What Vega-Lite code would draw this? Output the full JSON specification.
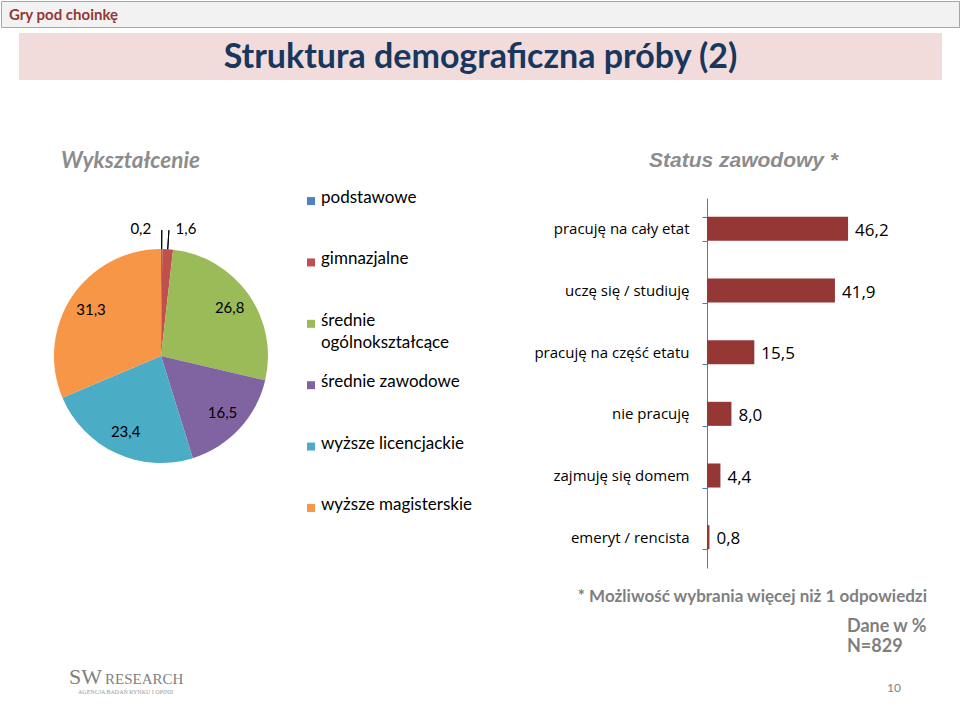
{
  "$schema": "https://vega.github.io/schema/vega-lite/v6.json",
  "padding": 0,
  "background": "#ffffff",
  "bounds": "flush",
  "spacing": 0,
  "config": {
    "view": {"stroke": null},
    "font": "Lato",
    "locale": {"number": {"decimal": ",", "thousands": " ", "grouping": [3], "currency": ["", " zł"]}}
  },
  "datasets": {
    "edu": [
      {"kat": "podstawowe", "lab": "podstawowe", "v": 0.2, "o": 1},
      {"kat": "gimnazjalne", "lab": "gimnazjalne", "v": 1.6, "o": 2},
      {"kat": "średnie ogólnokształcące", "lab": "średnie\nogólnokształcące", "v": 26.8, "o": 3},
      {"kat": "średnie zawodowe", "lab": "średnie zawodowe", "v": 16.5, "o": 4},
      {"kat": "wyższe licencjackie", "lab": "wyższe licencjackie", "v": 23.4, "o": 5},
      {"kat": "wyższe magisterskie", "lab": "wyższe magisterskie", "v": 31.3, "o": 6}
    ],
    "status": [
      {"kat": "pracuję na cały etat", "v": 46.2},
      {"kat": "uczę się / studiuję", "v": 41.9},
      {"kat": "pracuję na część etatu", "v": 15.5},
      {"kat": "nie pracuję", "v": 8.0},
      {"kat": "zajmuję się domem", "v": 4.4},
      {"kat": "emeryt / rencista", "v": 0.8}
    ]
  },
  "vconcat": [
    {
      "width": 958, "height": 26,
      "view": {"fill": "#f2f2f2", "stroke": "#a6a6a6", "strokeWidth": 1},
      "data": {"values": [{"t": "Gry pod choinkę"}]},
      "mark": {"type": "text", "align": "left", "baseline": "middle", "dx": -471, "dy": 1, "font": "Lato", "fontWeight": "bold", "fontSize": 15, "fill": "#953735"},
      "encoding": {"text": {"field": "t", "type": "nominal"}}
    },
    {"width": 20, "height": 6, "data": {"values": [{}]}, "mark": {"type": "point", "size": 1, "opacity": 0}},
    {
      "hconcat": [
        {"width": 18, "height": 47, "data": {"values": [{}]}, "mark": {"type": "point", "size": 1, "opacity": 0}},
        {
          "width": 923, "height": 47,
          "view": {"fill": "#f2dcdb", "stroke": null},
          "data": {"values": [{"t": "Struktura demograficzna próby (2)"}]},
          "mark": {"type": "text", "align": "center", "baseline": "middle", "dy": 1, "font": "Lato", "fontWeight": "bold", "fontSize": 34, "fill": "#17375e"},
          "encoding": {"text": {"field": "t", "type": "nominal"}}
        }
      ],
      "spacing": 0, "bounds": "flush"
    },
    {"width": 20, "height": 165, "data": {"values": [{}]}, "mark": {"type": "point", "size": 1, "opacity": 0}},
    {
      "hconcat": [
        {"width": 53, "height": 10, "data": {"values": [{}]}, "mark": {"type": "point", "size": 1, "opacity": 0}},
        {
          "width": 214, "height": 316,
          "title": {"text": "Wykształcenie", "anchor": "start", "frame": "group", "dx": 7, "offset": 8, "baseline": "alphabetic", "font": "Lato", "fontSize": 22.5, "fontStyle": "italic", "fontWeight": "bold", "color": "#8c8c8c"},
          "data": {"name": "edu"},
          "encoding": {
            "theta": {"field": "v", "type": "quantitative", "stack": true},
            "order": {"field": "o", "type": "quantitative"}
          },
          "layer": [
            {
              "mark": {"type": "arc", "outerRadius": 107},
              "encoding": {
                "color": {"field": "kat", "type": "nominal",
                  "scale": {"domain": ["podstawowe", "gimnazjalne", "średnie ogólnokształcące", "średnie zawodowe", "wyższe licencjackie", "wyższe magisterskie"],
                            "range": ["#4f81bd", "#c0504d", "#9bbb59", "#8064a2", "#4bacc6", "#f79646"]},
                  "legend": null}
              }
            },
            {
              "mark": {"type": "arc", "outerRadius": 126, "innerRadius": 107, "padAngle": 0.5, "fillOpacity": 0, "stroke": "#000", "strokeWidth": 1},
              "encoding": {
                "detail": {"field": "kat"},
                "strokeOpacity": {"condition": {"test": "datum.v < 5", "value": 1}, "value": 0}
              }
            },
            {
              "mark": {"type": "text", "radius": 84, "fontSize": 15, "fill": "#000", "font": "Lato"},
              "encoding": {
                "detail": {"field": "kat"},
                "text": {"condition": {"test": "datum.v >= 5", "field": "v", "format": ".1f"}, "value": ""}
              }
            },
            {
              "mark": {"type": "text", "radius": 127, "dx": -21, "fontSize": 15, "fill": "#000", "font": "Lato"},
              "encoding": {
                "detail": {"field": "kat"},
                "text": {"condition": {"test": "datum.o == 1", "field": "v", "format": ".1f"}, "value": ""}
              }
            },
            {
              "mark": {"type": "text", "radius": 127, "dx": 17, "fontSize": 15, "fill": "#000", "font": "Lato"},
              "encoding": {
                "detail": {"field": "kat"},
                "text": {"condition": {"test": "datum.o == 2", "field": "v", "format": ".1f"}, "value": ""}
              }
            }
          ]
        },
        {"width": 39, "height": 10, "data": {"values": [{}]}, "mark": {"type": "point", "size": 1, "opacity": 0}},
        {
          "width": 8, "height": 313,
          "data": {"name": "edu"},
          "encoding": {
            "y": {"field": "kat", "type": "nominal", "sort": ["podstawowe", "gimnazjalne", "średnie ogólnokształcące", "średnie zawodowe", "wyższe licencjackie", "wyższe magisterskie"], "scale": {"type": "point", "padding": 0.05}, "axis": null}
          },
          "layer": [
            {
              "mark": {"type": "point", "shape": "square", "filled": true, "size": 64, "opacity": 1},
              "encoding": {
                "color": {"field": "kat", "type": "nominal",
                  "scale": {"domain": ["podstawowe", "gimnazjalne", "średnie ogólnokształcące", "średnie zawodowe", "wyższe licencjackie", "wyższe magisterskie"],
                            "range": ["#4f81bd", "#c0504d", "#9bbb59", "#8064a2", "#4bacc6", "#f79646"]},
                  "legend": null}
              }
            },
            {
              "mark": {"type": "text", "align": "left", "baseline": "top", "dx": 10, "dy": -11, "lineBreak": "\n", "lineHeight": 22, "fontSize": 17, "fill": "#000", "font": "Lato"},
              "encoding": {"text": {"field": "lab", "type": "nominal"}}
            }
          ]
        },
        {"width": 392, "height": 10, "data": {"values": [{}]}, "mark": {"type": "point", "size": 1, "opacity": 0}},
        {
          "width": 229, "height": 370,
          "title": {"text": "Status zawodowy *", "anchor": "start", "frame": "group", "dx": -58, "offset": 3, "baseline": "alphabetic", "font": "Liberation Sans", "fontSize": 21, "fontStyle": "italic", "fontWeight": "bold", "color": "#8c8c8c"},
          "data": {"name": "status"},
          "encoding": {
            "y": {"field": "kat", "type": "nominal",
              "sort": ["pracuję na cały etat", "uczę się / studiuję", "pracuję na część etatu", "nie pracuję", "zajmuję się domem", "emeryt / rencista"],
              "scale": {"paddingInner": 0.61, "paddingOuter": 0.305},
              "axis": {"title": null, "domainColor": "#4a7ebb", "tickColor": "#4a7ebb", "tickSize": 5, "tickBand": "extent", "labelPadding": 13, "labelFontSize": 15, "labelColor": "#000", "labelFont": "Open Sans", "labelLimit": 300, "domainWidth": 1}},
            "x": {"field": "v", "type": "quantitative", "scale": {"domain": [0, 75]}, "axis": null}
          },
          "layer": [
            {"mark": {"type": "bar", "fill": "#953735"}},
            {
              "mark": {"type": "text", "align": "left", "baseline": "middle", "dx": 7, "dy": 2, "fontSize": 17, "fill": "#000", "font": "Open Sans"},
              "encoding": {"text": {"field": "v", "type": "quantitative", "format": ".1f"}}
            }
          ]
        }
      ],
      "spacing": 0, "bounds": "flush"
    },
    {"width": 20, "height": 370, "data": {"values": [{}]}, "mark": {"type": "point", "size": 1, "opacity": 0}},
    {
      "width": 960, "height": 141,
      "layer": [
        {
          "data": {"values": [{"t": "* Możliwość wybrania więcej niż 1 odpowiedzi"}]},
          "mark": {"type": "text", "align": "right", "baseline": "middle", "dx": 446, "dy": -41.5, "fontSize": 17, "fontWeight": "bold", "fill": "#7f7f7f", "font": "Lato"},
          "encoding": {"text": {"field": "t"}}
        },
        {
          "data": {"values": [{"t": "Dane w %"}]},
          "mark": {"type": "text", "align": "left", "baseline": "middle", "dx": 366, "dy": -11.5, "fontSize": 18, "fontWeight": "bold", "fill": "#7f7f7f", "font": "Lato"},
          "encoding": {"text": {"field": "t"}}
        },
        {
          "data": {"values": [{"t": "N=829"}]},
          "mark": {"type": "text", "align": "left", "baseline": "middle", "dx": 366, "dy": 8.5, "fontSize": 18, "fontWeight": "bold", "fill": "#7f7f7f", "font": "Lato"},
          "encoding": {"text": {"field": "t"}}
        },
        {
          "data": {"values": [{"t": "10"}]},
          "mark": {"type": "text", "align": "center", "baseline": "middle", "dx": 413, "dy": 49.5, "fontSize": 12, "fill": "#7f7f7f", "font": "Lato"},
          "encoding": {"text": {"field": "t"}}
        },
        {
          "data": {"values": [{"t": "SW"}]},
          "mark": {"type": "text", "align": "left", "baseline": "alphabetic", "dx": -412, "dy": 45.5, "fontSize": 22, "fill": "#7f7f7f", "font": "Liberation Serif"},
          "encoding": {"text": {"field": "t"}}
        },
        {
          "data": {"values": [{"t": "RESEARCH"}]},
          "mark": {"type": "text", "align": "left", "baseline": "alphabetic", "dx": -376, "dy": 45.5, "fontSize": 15, "fill": "#7f7f7f", "font": "Liberation Serif"},
          "encoding": {"text": {"field": "t"}}
        },
        {
          "data": {"values": [{"t": "AGENCJA BADAŃ RYNKU I OPINII"}]},
          "mark": {"type": "text", "align": "left", "baseline": "middle", "dx": -403, "dy": 53, "fontSize": 6, "fill": "#9a9a9a", "font": "Liberation Serif"},
          "encoding": {"text": {"field": "t"}}
        }
      ]
    }
  ]
}
